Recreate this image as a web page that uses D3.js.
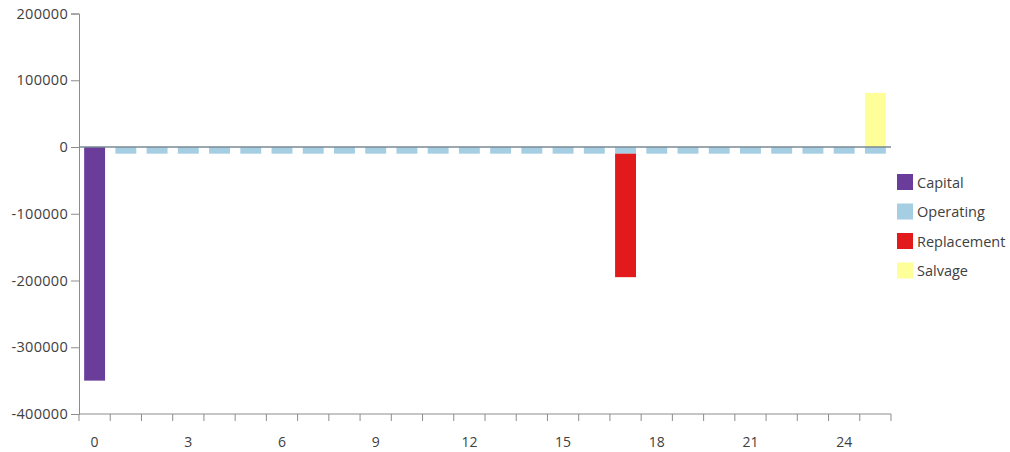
<!DOCTYPE html>
<html><head><meta charset="utf-8">
<script src="https://cdn.jsdelivr.net/npm/d3@7"></script>
<style>
body{margin:0;background:#fff;}
text{font-family:"Open Sans","Noto Sans",sans-serif;fill:#404040;}
</style></head>
<body><svg id="c" width="1010" height="452"></svg>
<script>
const years = d3.range(0, 26);
const seriesNames = ["Capital", "Operating", "Replacement", "Salvage"];
const capital =     [-350000,0,0,0,0,0,0,0,0,0,0,0,0,0,0,0,0,0,0,0,0,0,0,0,0,0];
const operating =   [0,-10000,-10000,-10000,-10000,-10000,-10000,-10000,-10000,-10000,-10000,-10000,-10000,-10000,-10000,-10000,-10000,-10000,-10000,-10000,-10000,-10000,-10000,-10000,-10000,-10000];
const replacement = [0,0,0,0,0,0,0,0,0,0,0,0,0,0,0,0,0,-185000,0,0,0,0,0,0,0,0];
const salvage =     [0,0,0,0,0,0,0,0,0,0,0,0,0,0,0,0,0,0,0,0,0,0,0,0,0,81000];
const yTicks = [200000,100000,0,-100000,-200000,-300000,-400000];
const xLabelYears = [0,3,6,9,12,15,18,21,24];
const colors = ["#6a3d9a","#a6cee3","#e31a1c","#ffff99"];

(function(){
const rows = years.map((y,i)=>({year:y, Capital:capital[i], Operating:operating[i], Replacement:replacement[i], Salvage:salvage[i]}));
const stack = d3.stack().keys(seriesNames).offset(d3.stackOffsetDiverging);
const stacked = stack(rows);

const svg = d3.select("#c");
const mLeft = 79, mRight = 891, mTop = 13.5, mBottom = 414;
const x = d3.scaleBand().domain(years).range([mLeft, mRight]).paddingInner(0.33).paddingOuter(0.165);
const xb = d3.scaleBand().domain(years).range([mLeft, mRight]);
const y = d3.scaleLinear().domain([-400000, 200000]).range([mBottom, mTop]);
const color = d3.scaleOrdinal().domain(seriesNames).range(colors);

// bars
svg.append("g").selectAll("g").data(stacked).join("g")
  .attr("fill", d=>color(d.key))
  .selectAll("rect").data(d=>d.filter(v=>v[1]-v[0]!==0)).join("rect")
  .attr("x", d=>x(d.data.year))
  .attr("width", x.bandwidth())
  .attr("y", d=>y(Math.max(d[0],d[1])))
  .attr("height", d=>Math.abs(y(d[0])-y(d[1])));

// zero line
svg.append("line").attr("x1", mLeft).attr("x2", mRight).attr("y1", y(0)).attr("y2", y(0))
  .attr("stroke","#7a8a94").attr("stroke-width",1.5);

// y axis
const yAxis = svg.append("g").attr("transform",`translate(${mLeft},0)`)
  .call(d3.axisLeft(y).tickValues(yTicks).tickFormat(d=>String(d)).tickSize(8).tickPadding(3));
yAxis.select(".domain").attr("stroke","#8c8c8c");
yAxis.selectAll(".tick line").attr("stroke","#8c8c8c");
yAxis.selectAll("text").style("font-size","14.5px").style("fill","#404040").style("font-family","'Open Sans',sans-serif").attr("letter-spacing","0.3");

// x axis
const xAxis = svg.append("g").attr("transform",`translate(0,${mBottom})`);
xAxis.append("line").attr("x1",mLeft).attr("x2",mRight).attr("stroke","#8c8c8c");
xAxis.selectAll("line.t").data(years.concat([26])).join("line").attr("class","t")
  .attr("x1", d=> d<26 ? xb(d) : mRight).attr("x2", d=> d<26 ? xb(d) : mRight)
  .attr("y1",0).attr("y2",7).attr("stroke","#8c8c8c");
xAxis.selectAll("text").data(xLabelYears).join("text")
  .attr("x", d=>xb(d)+xb.bandwidth()/2).attr("y", 33)
  .attr("text-anchor","middle").style("font-size","14px").text(d=>d);

// legend
const lg = svg.append("g").attr("transform","translate(897,174)");
const li = lg.selectAll("g").data(seriesNames).join("g").attr("transform",(d,i)=>`translate(0,${i*29.5})`);
li.append("rect").attr("width",16).attr("height",16).attr("fill",d=>color(d));
li.append("text").attr("x",20).attr("y",13.5).style("font-size","14.5px").text(d=>d);
})();
</script></body></html>
